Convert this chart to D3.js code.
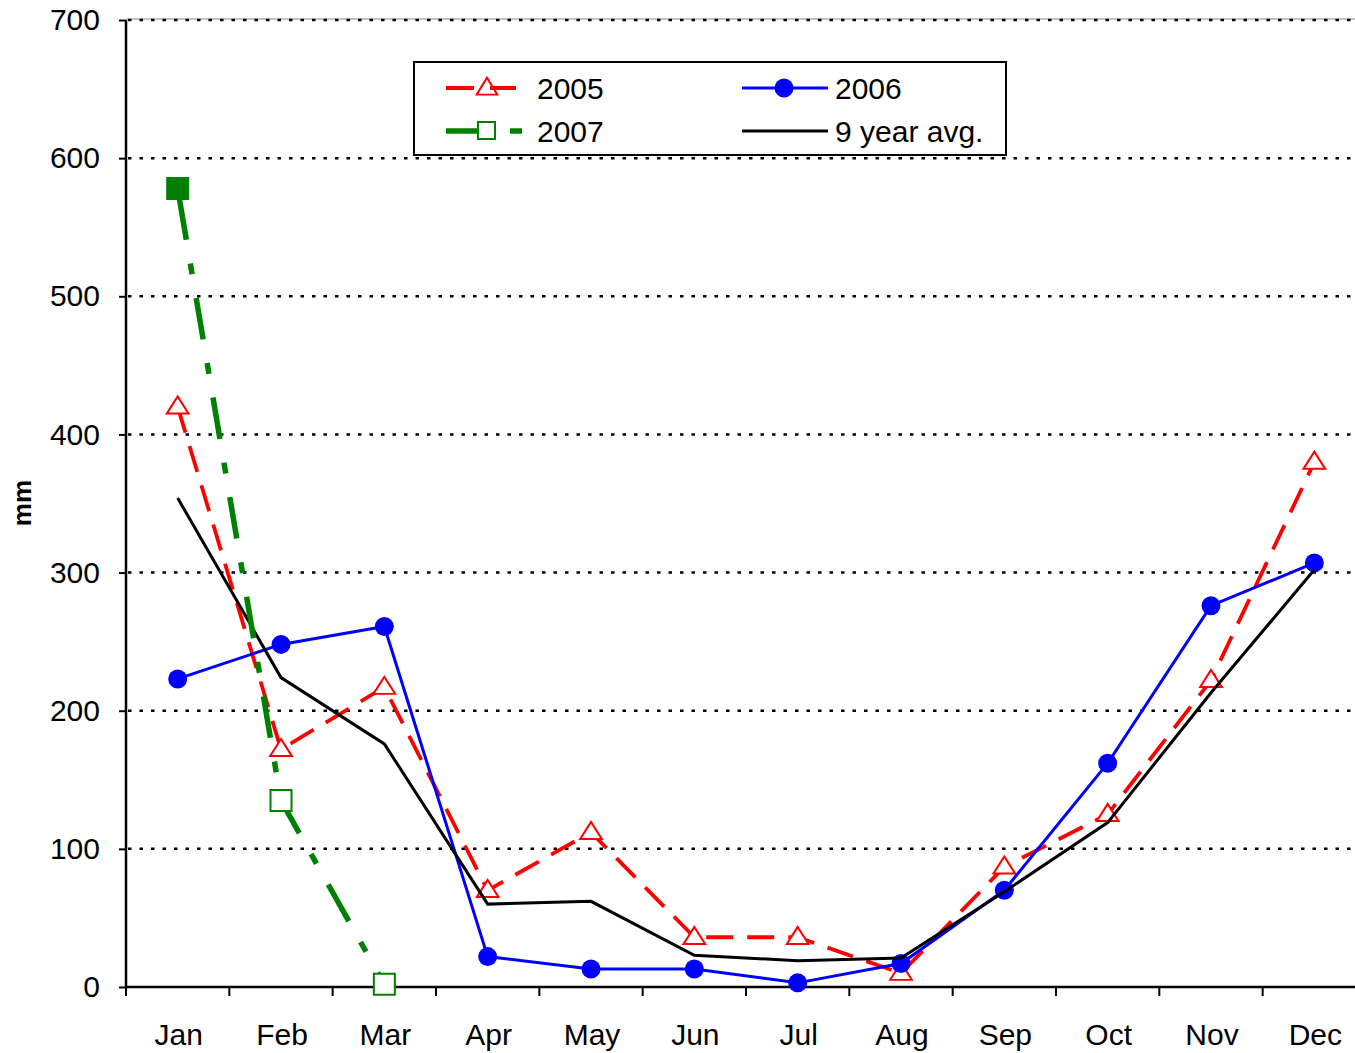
<!DOCTYPE html>
<html><head><meta charset="utf-8">
<script src="https://cdn.jsdelivr.net/npm/d3@7"></script>
<style>
html,body{margin:0;padding:0;background:#fff;}
svg{display:block;font-family:"Liberation Sans",Arial,sans-serif;}
</style></head>
<body>
<svg id="chart" width="1355" height="1053"></svg>
<script>
const months = ["Jan","Feb","Mar","Apr","May","Jun","Jul","Aug","Sep","Oct","Nov","Dec"];
const yTicks = [0,100,200,300,400,500,600,700];
const s2005 = [420,172,217,70,112,36,36,10,87,125,222,380];
const s2006 = [223,248,261,22,13,13,3,17,70,162,276,307];
const s2007 = [578,135,2];
const sAvg  = [354,224,176,60,62,23,19,21,69,119,213,302];
const seriesNames = ["2005","2006","2007","9 year avg."];

const svg = d3.select("#chart");
const L = 126, R = 1366, T = 20, B = 987;
const x = d3.scaleBand().domain(months).range([L, R]);
const y = d3.scaleLinear().domain([0,700]).range([B, T]);
const cx = m => x(m) + x.bandwidth()/2;

// top border
svg.append("line").attr("x1",L).attr("x2",1355).attr("y1",T-1).attr("y2",T-1)
  .attr("stroke","#888").attr("stroke-width",1);

// gridlines
svg.append("g").selectAll("line").data(yTicks.filter(d=>d>0)).join("line")
  .attr("x1",L+2).attr("x2",1355).attr("y1",d=>y(d)).attr("y2",d=>y(d))
  .attr("stroke","#000").attr("stroke-width",2.5).attr("stroke-dasharray","3.5,8");

// y axis
const yAxis = svg.append("g").attr("transform",`translate(${L},0)`)
  .call(d3.axisLeft(y).tickValues(yTicks).tickSize(7).tickPadding(19).tickFormat(d3.format("d")));
yAxis.select(".domain").remove();
yAxis.selectAll(".tick line").attr("stroke","#000").attr("stroke-width",2);
yAxis.selectAll("text").attr("font-size",30).attr("fill","#000")
  .attr("font-family","'Liberation Sans',Arial,sans-serif");
svg.append("line").attr("x1",L).attr("x2",L).attr("y1",T).attr("y2",B+1)
  .attr("stroke","#000").attr("stroke-width",2.5);

// x axis
svg.append("line").attr("x1",L).attr("x2",1355).attr("y1",B).attr("y2",B)
  .attr("stroke","#000").attr("stroke-width",2.5);
svg.append("g").selectAll("line").data(months.slice(1)).join("line")
  .attr("x1",d=>x(d)).attr("x2",d=>x(d)).attr("y1",B).attr("y2",B+9)
  .attr("stroke","#000").attr("stroke-width",2);
svg.append("line").attr("x1",L).attr("x2",L).attr("y1",B).attr("y2",B+9)
  .attr("stroke","#000").attr("stroke-width",2);
svg.append("g").selectAll("text").data(months).join("text")
  .attr("x",d=>cx(d)+1).attr("y",1045).attr("text-anchor","middle")
  .attr("font-size",30).attr("fill","#000").text(d=>d);

// y title
svg.append("text").attr("transform","translate(31,503) rotate(-90)")
  .attr("text-anchor","middle").attr("font-size",26).attr("font-weight","bold").text("mm");

const line = d3.line().x((d,i)=>cx(months[i])).y(d=>y(d));
const tri = d3.symbol().type(d3.symbolTriangle).size(185);

// 2005
svg.append("path").datum(s2005).attr("d",line).attr("fill","none")
  .attr("stroke","#ff0000").attr("stroke-width",3.8).attr("stroke-dasharray","27,14");
svg.append("g").selectAll("path").data(s2005).join("path")
  .attr("d",tri).attr("transform",(d,i)=>`translate(${cx(months[i])},${y(d)+1}) scale(1.05,0.95)`)
  .attr("fill","#fff").attr("stroke","#ff0000").attr("stroke-width",2);

// 2006
svg.append("path").datum(s2006).attr("d",line).attr("fill","none")
  .attr("stroke","#0000ff").attr("stroke-width",3);
svg.append("g").selectAll("circle").data(s2006).join("circle")
  .attr("cx",(d,i)=>cx(months[i])).attr("cy",d=>y(d)).attr("r",9.5).attr("fill","#0000ff");

// avg
svg.append("path").datum(sAvg).attr("d",line).attr("fill","none")
  .attr("stroke","#000").attr("stroke-width",3);

// 2007
svg.append("path").datum(s2007).attr("d",line).attr("fill","none")
  .attr("stroke","#008000").attr("stroke-width",5.5).attr("stroke-dasharray","42,24,11,24")
  .attr("stroke-dashoffset",-10);
svg.append("g").selectAll("rect").data(s2007).join("rect")
  .attr("x",(d,i)=>cx(months[i])-10.5).attr("y",d=>y(d)-10.5).attr("width",21).attr("height",21)
  .attr("fill",(d,i)=>i===0?"#008000":"#fff").attr("stroke","#008000").attr("stroke-width",2);

// legend
const lg = svg.append("g");
lg.append("rect").attr("x",414).attr("y",62).attr("width",592).attr("height",93)
  .attr("fill","#fff").attr("stroke","#000").attr("stroke-width",2);
const r1 = 88, r2 = 131;
// 2005
lg.append("line").attr("x1",446).attr("x2",474).attr("y1",r1).attr("y2",r1).attr("stroke","#ff0000").attr("stroke-width",4);
lg.append("line").attr("x1",490).attr("x2",516).attr("y1",r1).attr("y2",r1).attr("stroke","#ff0000").attr("stroke-width",4);
lg.append("path").attr("d",tri).attr("transform",`translate(487,${r1+1}) scale(1.0,0.95)`)
  .attr("fill","none").attr("stroke","#ff0000").attr("stroke-width",2);
// 2006
lg.append("line").attr("x1",742).attr("x2",828).attr("y1",r1).attr("y2",r1).attr("stroke","#0000ff").attr("stroke-width",3);
lg.append("circle").attr("cx",784).attr("cy",r1).attr("r",9.5).attr("fill","#0000ff");
// 2007
lg.append("line").attr("x1",446).attr("x2",478).attr("y1",r2).attr("y2",r2).attr("stroke","#008000").attr("stroke-width",5.5);
lg.append("line").attr("x1",510).attr("x2",522).attr("y1",r2).attr("y2",r2).attr("stroke","#008000").attr("stroke-width",5.5);
lg.append("rect").attr("x",478).attr("y",r2-9).attr("width",17).attr("height",17)
  .attr("fill","#fff").attr("stroke","#008000").attr("stroke-width",2);
// avg
lg.append("line").attr("x1",742).attr("x2",828).attr("y1",r2).attr("y2",r2).attr("stroke","#000").attr("stroke-width",3);
const lt = [[seriesNames[0],537,r1],[seriesNames[1],835,r1],[seriesNames[2],537,r2],[seriesNames[3],835,r2]];
lg.selectAll("text.l").data(lt).join("text").attr("class","l")
  .attr("x",d=>d[1]).attr("y",d=>d[2]+11).attr("font-size",30).attr("fill","#000").text(d=>d[0]);
</script>
</body></html>
